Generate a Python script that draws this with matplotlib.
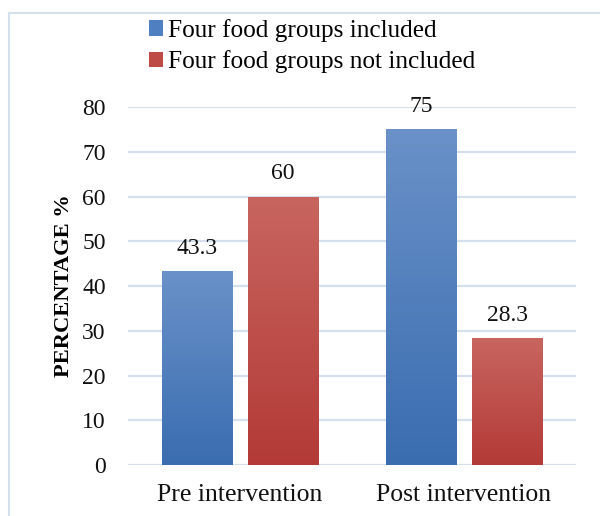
import matplotlib
matplotlib.use("Agg")
import matplotlib.pyplot as plt
import numpy as np
from matplotlib.colors import LinearSegmentedColormap
from matplotlib.lines import Line2D
from matplotlib.patches import Patch

categories = ["Pre intervention", "Post intervention"]
series_names = ["Four food groups included", "Four food groups not included"]
included = [43.3, 75]
not_included = [60, 28.3]
value_labels = [["43.3", "75"], ["60", "28.3"]]
y_ticks = [0, 10, 20, 30, 40, 50, 60, 70, 80]

plt.rcParams["font.family"] = ["Liberation Serif", "DejaVu Serif"]

blue_top, blue_bottom = "#6A91C8", "#3A6DB0"
red_top, red_bottom = "#C8655F", "#B33A37"

fig = plt.figure(figsize=(6.0, 5.16), dpi=100)
ax = fig.add_axes([0.2133, 0.0988, 0.7467, 0.6938])

x = np.arange(len(categories))
width = 0.3125
offset = 0.192

def gradient_bars(xs, values, top, bottom):
    bars = ax.bar(xs, values, width, color="none", edgecolor="none", zorder=3)
    cmap = LinearSegmentedColormap.from_list("g", [bottom, top])
    grad = np.linspace(0, 1, 256).reshape(-1, 1)
    for b in bars:
        x0, y0 = b.get_x(), b.get_y()
        im = ax.imshow(grad, cmap=cmap, origin="lower", aspect="auto",
                       extent=[x0, x0 + b.get_width(), y0, y0 + b.get_height()],
                       zorder=3, interpolation="bicubic")
        im.set_clip_path(b)
    return bars

b1 = gradient_bars(x - offset, included, blue_top, blue_bottom)
b2 = gradient_bars(x + offset, not_included, red_top, red_bottom)

for bars, labels in zip([b1, b2], value_labels):
    for b, lab in zip(bars, labels):
        ax.annotate(lab, (b.get_x() + b.get_width() / 2, b.get_height()),
                    xytext=(0, 9), textcoords="offset points",
                    ha="center", va="bottom", fontsize=17, color="#111111")

ax.set_xlim(-0.5, 1.5)
ax.set_ylim(0, 80)
ax.set_yticks(y_ticks)
ax.set_xticks(x)
ax.set_xticklabels(categories, fontsize=18.5)
ax.tick_params(axis="both", length=0, colors="#111111")
ax.tick_params(axis="y", pad=16, labelsize=17)
ax.tick_params(axis="x", pad=14)
ax.grid(axis="y", color="#D5E0EF", linewidth=1.6, zorder=0)
ax.set_axisbelow(True)
for s in ax.spines.values():
    s.set_visible(False)

ax.set_ylabel("PERCENTAGE %", fontsize=16.2, fontweight="bold", labelpad=6)

handles = [Patch(facecolor="#4F7FC0", edgecolor="none"),
           Patch(facecolor="#BF4B47", edgecolor="none")]
fig.legend(handles, series_names, loc="upper left",
           bbox_to_anchor=(0.248, 0.963), frameon=False, fontsize=18.2,
           handlelength=0.56, handleheight=0.56, handletextpad=0.2,
           labelspacing=0.33, borderaxespad=0, borderpad=0)

border = "#D5E0EF"
fig.add_artist(Line2D([9 / 600, 9 / 600], [0, 1 - 13 / 516], color=border, lw=1.5,
                      transform=fig.transFigure))
fig.add_artist(Line2D([9 / 600, 1.0], [1 - 13 / 516, 1 - 13 / 516], color=border, lw=1.5,
                      transform=fig.transFigure))

fig.savefig("out.png", dpi=100, facecolor="white")
